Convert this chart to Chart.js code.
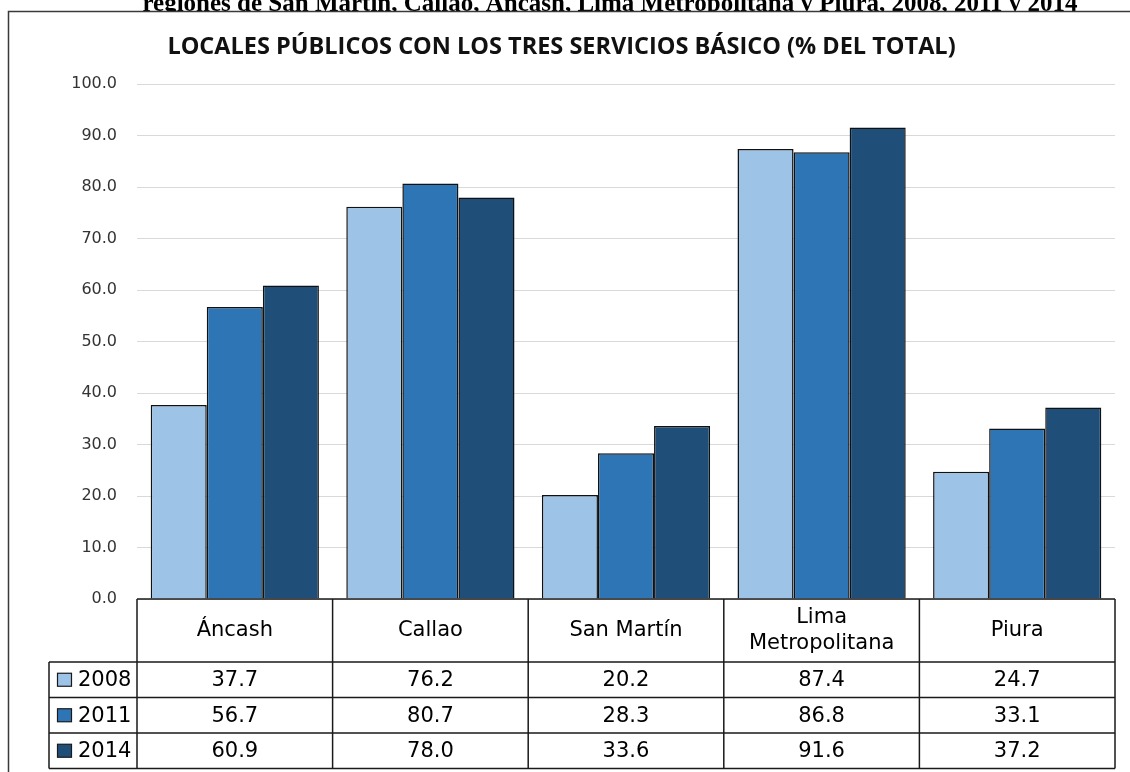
<!DOCTYPE html>
<html>
<head>
<meta charset="utf-8">
<script src="https://cdn.jsdelivr.net/npm/chart.js@4.4.0/dist/chart.umd.min.js"></script>
<style>
  html, body { margin: 0; padding: 0; background: #fff; overflow: hidden; }
  canvas { display: block; }
</style>
</head>
<body>
<canvas id="chart" width="1130" height="772"></canvas>
<script>
// data
const categories = ['Áncash', 'Callao', 'San Martín', ['Lima', 'Metropolitana'], 'Piura'];
const years = ['2008', '2011', '2014'];
const values2008 = [37.7, 76.2, 20.2, 87.4, 24.7];
const values2011 = [56.7, 80.7, 28.3, 86.8, 33.1];
const values2014 = [60.9, 78.0, 33.6, 91.6, 37.2];
const yearColors = ['#9DC3E6', '#2E75B6', '#1F4E79'];

const chartTitle = 'LOCALES PÚBLICOS CON LOS TRES SERVICIOS BÁSICO (% DEL TOTAL)';
const pageHeading = 'regiones de San Martín, Callao, Áncash, Lima Metropolitana y Piura, 2008, 2011 y 2014';

// heading (cut off at the top) + frame round the chart
const framePlugin = {
    id: 'frame',
    beforeDraw(chart) {
        const ctx = chart.ctx;
        ctx.save();
        ctx.fillStyle = '#000';
        ctx.font = 'bold 25px "Liberation Serif"';
        ctx.textAlign = 'center';
        ctx.textBaseline = 'alphabetic';
        ctx.fillText(pageHeading, 610, 11);
        ctx.fillStyle = '#fff';
        ctx.fillRect(8, 11, chart.width - 8, chart.height - 11);
        ctx.strokeStyle = '#3a3a3a';
        ctx.lineWidth = 1.5;
        ctx.beginPath();
        ctx.moveTo(8.5, chart.height);
        ctx.lineTo(8.5, 11.5);
        ctx.lineTo(chart.width, 11.5);
        ctx.stroke();
        ctx.restore();
    }
};

// data table under the bars
const tablePlugin = {
    id: 'dataTable',
    afterDraw(chart) {
        const ctx = chart.ctx;
        const x = chart.scales.x;
        const area = chart.chartArea;
        const colW = x.width / categories.length;
        const top = area.bottom;
        const headH = 63;
        const rowH = 35.5;
        const legLeft = 49;
        const bottom = top + headH + rowH * years.length;

        ctx.save();
        ctx.strokeStyle = '#1a1a1a';
        ctx.lineWidth = 1.5;
        ctx.beginPath();
        // horizontal lines
        ctx.moveTo(area.left, top);
        ctx.lineTo(area.right, top);
        for (let r = 0; r <= years.length; r++) {
            const yy = top + headH + r * rowH;
            ctx.moveTo(legLeft, yy);
            ctx.lineTo(area.right, yy);
        }
        // vertical lines
        for (let i = 0; i <= categories.length; i++) {
            const xx = x.getPixelForValue(0) - colW / 2 + i * colW;
            ctx.moveTo(xx, top);
            ctx.lineTo(xx, bottom);
        }
        ctx.moveTo(legLeft, top + headH);
        ctx.lineTo(legLeft, bottom);
        ctx.stroke();

        ctx.fillStyle = '#000';
        ctx.font = '21px "DejaVu Sans"';
        ctx.textAlign = 'center';
        ctx.textBaseline = 'middle';
        // category header
        categories.forEach((cat, i) => {
            const cx = x.getPixelForValue(i);
            const lines = Array.isArray(cat) ? cat : [cat];
            const lh = 26;
            const y0 = top + headH / 2 - (lines.length - 1) * lh / 2;
            lines.forEach((ln, k) => ctx.fillText(ln, cx, y0 + k * lh));
        });
        // values
        chart.data.datasets.forEach((ds, r) => {
            const cy = top + headH + r * rowH + rowH / 2;
            ds.data.forEach((v, i) => {
                ctx.fillText(v.toFixed(1), x.getPixelForValue(i), cy + 1);
            });
            // legend key
            ctx.fillStyle = ds.backgroundColor;
            ctx.fillRect(57.5, cy - 6.5, 14, 13);
            ctx.strokeStyle = '#1a1a1a';
            ctx.lineWidth = 1.2;
            ctx.strokeRect(57.5, cy - 6.5, 14, 13);
            ctx.fillStyle = '#000';
            ctx.textAlign = 'left';
            ctx.fillText(ds.label, 78, cy + 1);
            ctx.textAlign = 'center';
        });
        ctx.restore();
    }
};

const ctx = document.getElementById('chart').getContext('2d');
const chart = new Chart(ctx, {
    type: 'bar',
    data: {
        labels: categories,
        datasets: [
            { label: years[0], data: values2008, backgroundColor: yearColors[0] },
            { label: years[1], data: values2011, backgroundColor: yearColors[1] },
            { label: years[2], data: values2014, backgroundColor: yearColors[2] }
        ]
    },
    options: {
        responsive: false,
        animation: false,
        devicePixelRatio: 1,
        layout: { padding: { top: 11, left: 8, right: 15, bottom: 173 } },
        datasets: {
            bar: {
                categoryPercentage: 0.86,
                barPercentage: 1.0,
                borderColor: '#111',
                borderWidth: 1.5
            }
        },
        plugins: {
            legend: { display: false },
            tooltip: { enabled: false },
            title: {
                display: true,
                text: chartTitle,
                color: '#111',
                font: { family: '"Open Sans"', size: 23.5, weight: 'bold' },
                padding: { top: 22, bottom: 23 }
            }
        },
        scales: {
            x: { display: false },
            y: {
                min: 0,
                max: 100,
                afterFit(scale) { scale.width = 129; },
                border: { display: false },
                grid: { color: '#d9d9d9', lineWidth: 1, drawTicks: false },
                ticks: {
                    stepSize: 10,
                    padding: 20,
                    color: '#333',
                    font: { family: '"DejaVu Sans"', size: 16 },
                    callback: v => v.toFixed(1)
                }
            }
        }
    },
    plugins: [framePlugin, tablePlugin]
});
</script>
</body>
</html>
